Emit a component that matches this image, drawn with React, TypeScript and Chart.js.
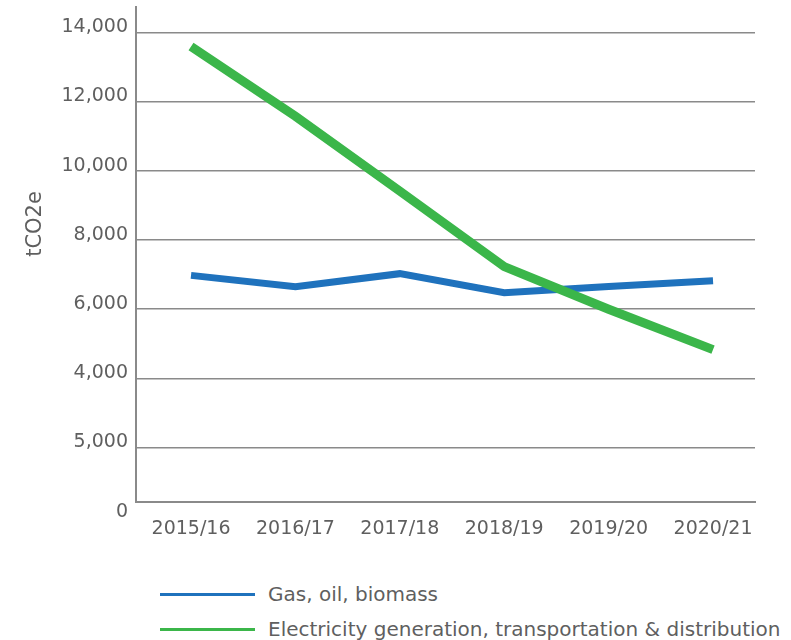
import React, { useEffect, useRef } from "react";
import { Chart, registerables } from "chart.js";

Chart.register(...registerables);

const categories = ["2015/16", "2016/17", "2017/18", "2018/19", "2019/20", "2020/21"];
const gasOilBiomass = [6975, 6648, 7024, 6475, 6650, 6822];
const electricity = [13589, 11576, 9413, 7227, 5995, 4827];
const yTickValues = [0, 2000, 4000, 6000, 8000, 10000, 12000, 14000];
const yTickLabels = ["0", "5,000", "4,000", "6,000", "8,000", "10,000", "12,000", "14,000"];
const yAxisTitle = "tCO2e";
const seriesNames = ["Gas, oil, biomass", "Electricity generation, transportation & distribution"];
const seriesColors = ["#1f72bd", "#3bb64a"];

const FONT = '"DejaVu Sans", sans-serif';
const TEXT = "#5f5f5f";
const GRID = "#8a8a8a";

export default function App() {
  const canvasRef = useRef<HTMLCanvasElement | null>(null);

  useEffect(() => {
    const canvas = canvasRef.current;
    if (!canvas) return;
    const yTitlePlugin = {
      id: "yTitle",
      afterDraw(chart: any) {
        const ctx = chart.ctx;
        ctx.save();
        ctx.translate(36, 224);
        ctx.rotate(-Math.PI / 2);
        ctx.font = `21px ${FONT}`;
        ctx.fillStyle = TEXT;
        ctx.textAlign = "center";
        ctx.textBaseline = "middle";
        ctx.fillText(yAxisTitle, 0, 0);
        ctx.restore();
      },
    };
    const chart = new Chart(canvas, {
      type: "line",
      data: {
        datasets: [
          {
            label: seriesNames[0],
            data: gasOilBiomass.map((v, i) => ({ x: i, y: v })),
            borderColor: seriesColors[0],
            backgroundColor: seriesColors[0],
            borderWidth: 7,
            pointRadius: 0,
            tension: 0,
            order: 1,
          },
          {
            label: seriesNames[1],
            data: electricity.map((v, i) => ({ x: i, y: v })),
            borderColor: seriesColors[1],
            backgroundColor: seriesColors[1],
            borderWidth: 9,
            pointRadius: 0,
            tension: 0,
            order: 0,
          },
        ],
      },
      options: {
        animation: false,
        responsive: false,
        devicePixelRatio: 1,
        layout: { padding: { left: 0, right: 36, top: 7, bottom: 0 } },
        plugins: { legend: { display: false }, tooltip: { enabled: false } },
        scales: {
          x: {
            type: "linear",
            min: -0.527,
            max: 5.402,
            afterBuildTicks: (scale: any) => {
              scale.ticks = categories.map((_, i) => ({ value: i }));
            },
            afterFit: (scale: any) => {
              scale.height = 58;
              scale.paddingLeft = 0;
              scale.paddingRight = 0;
            },
            grid: { display: false, drawTicks: false },
            border: { display: true, color: GRID, width: 2 },
            ticks: {
              autoSkip: false,
              maxRotation: 0,
              padding: 16,
              color: TEXT,
              font: { family: FONT, size: 19 },
              callback: (_v: any, i: number) => categories[i],
            },
          },
          y: {
            type: "linear",
            min: 422,
            max: 14734,
            afterBuildTicks: (scale: any) => {
              scale.ticks = yTickValues.map((v) => ({ value: v }));
            },
            afterFit: (scale: any) => {
              scale.width = 136;
              scale.paddingTop = 0;
              scale.paddingBottom = 0;
            },
            grid: {
              drawTicks: false,
              color: (ctx: any) => (ctx.tick && ctx.tick.value === 0 ? "rgba(0,0,0,0)" : GRID),
              lineWidth: 1.5,
            },
            border: { display: true, color: GRID, width: 2 },
            ticks: {
              autoSkip: false,
              padding: 8,
              labelOffset: -5,
              color: TEXT,
              font: { family: FONT, size: 19 },
              callback: (_v: any, i: number) => yTickLabels[i],
            },
          },
        },
      },
      plugins: [yTitlePlugin],
    } as any);
    return () => chart.destroy();
  }, []);

  const legendRow = (i: number, centerY: number) => (
    <div
      key={i}
      style={{
        position: "absolute",
        left: 160,
        top: centerY - 15,
        height: 30,
        display: "flex",
        alignItems: "center",
        fontFamily: FONT,
        fontSize: 20,
        color: TEXT,
        whiteSpace: "nowrap",
      }}
    >
      <span style={{ display: "inline-block", width: 95, height: 3, background: seriesColors[i], marginRight: 13 }} />
      <span>{seriesNames[i]}</span>
    </div>
  );

  return (
    <div style={{ position: "absolute", left: 0, top: 0, width: 791, height: 640, background: "#fff", overflow: "hidden" }}>
      <canvas ref={canvasRef} width={791} height={560} style={{ display: "block", width: 791, height: 560 }} />
      {legendRow(0, 594)}
      {legendRow(1, 629)}
    </div>
  );
}
